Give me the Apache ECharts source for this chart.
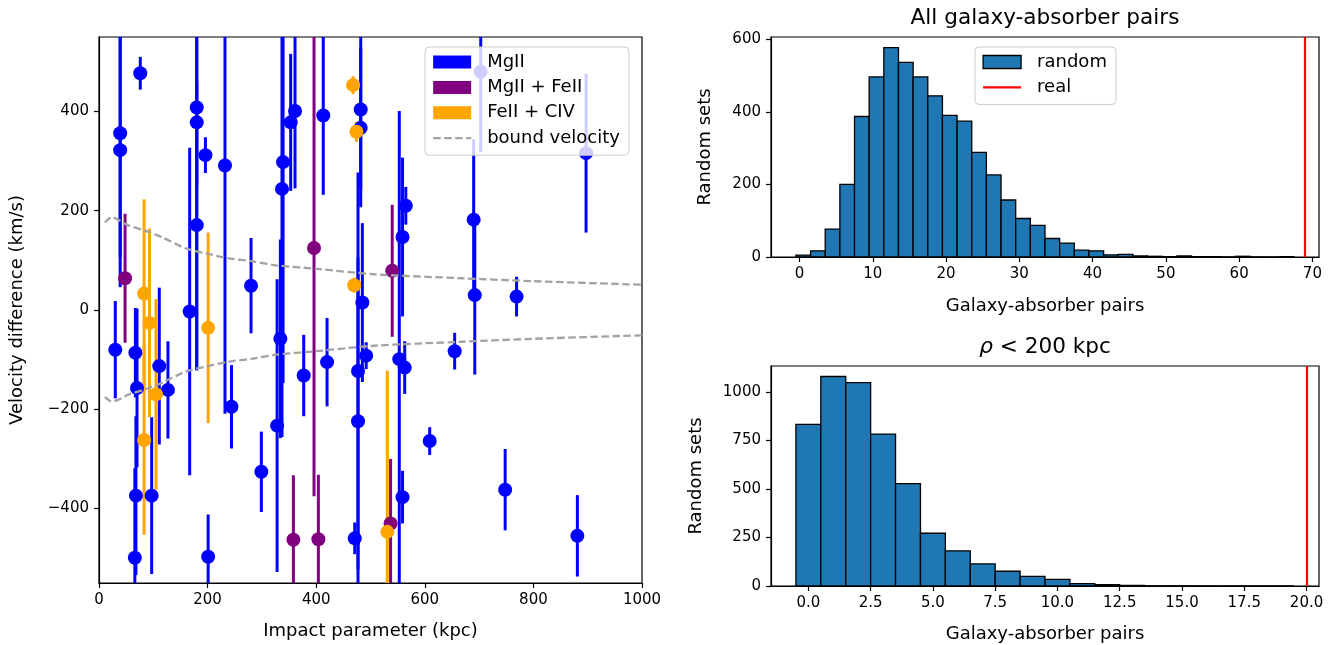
<!DOCTYPE html>
<html><head><meta charset="utf-8">
<script src="https://cdn.jsdelivr.net/npm/echarts@6/dist/echarts.min.js"></script>
<style>html,body{margin:0;padding:0;background:#fff}#c{width:1342px;height:645px}</style>
</head><body><div id="c"></div><script>
const FONT = 'DejaVu Sans';

// ---- Left panel: velocity difference vs impact parameter ----
const mgX   = [30, 39, 39, 76, 67, 70, 68, 66, 111, 127, 97, 167, 180, 180, 180, 196, 201, 232, 244, 280, 299, 328, 334, 337, 339, 353, 361, 377, 413, 420, 471, 477, 477, 482, 482, 485, 492, 553, 559, 565, 563, 559, 609, 655, 690, 692, 703, 748, 769, 881, 897];
const mgV   = [-80, 356, 322, 477, -86, -157, -374, -499, -113, -161, -374, -3, 408, 378, 171, 312, -497, 291, -195, 49, -326, -233, -58, 244, 298, 378, 401, -132, 392, -105, -460, -123, -224, 404, 367, 15, -92, -99, 147, 210, -116, -377, -264, -83, 182, 30, 480, -362, 27, -455, 316];
const mgErr = [98, 250, 276, 33, 90, 160, 160, 180, 158, 98, 158, 330, 160, 500, 290, 36, 85, 500, 84, 96, 81, 295, 200, 500, 445, 138, 156, 82, 160, 89, 32, 400, 330, 160, 160, 160, 27, 500, 160, 38, 53, 53, 28, 37, 162, 160, 162, 82, 40, 82, 160];

const mfX   = [48, 396, 358, 404, 540, 537];
const mfV   = [64, 125, -463, -462, 79, -430];
const mfErr = [130, 500, 130, 130, 133, 130];

const fcX   = [83, 83, 93, 105, 201, 468, 474, 470, 531];
const fcV   = [33, -262, -26, -170, -36, 453, 359, 50, -447];
const fcErr = [190, 191, 190, 192, 192, 18, 20, 15, 325];

const boundR    = [11, 23, 35, 53, 87, 117, 160, 197, 240, 283, 326, 400, 507, 667, 801, 1000];
const boundVUp  = [176, 187, 182, 171, 159, 146, 124, 114, 104, 98, 90, 83, 72, 64, 58, 51];
const boundVLow = [-175, -184, -181, -171, -159, -146, -124, -114, -104, -98, -90, -83, -72, -64, -58, -51];

const leftXTicks = [0, 200, 400, 600, 800, 1000];
const leftYTicks = [-400, -200, 0, 200, 400];

// ---- Top-right histogram: all galaxy-absorber pairs ----
const topBinEdges = [-0.5, 1.5, 3.5, 5.5, 7.5, 9.5, 11.5, 13.5, 15.5, 17.5, 19.5, 21.5, 23.5, 25.5, 27.5, 29.5, 31.5, 33.5, 35.5, 37.5, 39.5, 41.5, 43.5, 45.5, 47.5, 49.5, 51.5, 53.5, 55.5, 57.5, 59.5, 61.5, 63.5, 65.5, 67.5];
const topCounts   = [5, 17, 77, 200, 387, 496, 577, 536, 496, 444, 390, 374, 288, 226, 157, 106, 87, 51, 38, 19, 17, 6, 7, 3, 2, 1, 3, 1, 1, 0, 2, 0, 0, 1];
const topReal = 69;
const topXTicks = [0, 10, 20, 30, 40, 50, 60, 70];
const topYTicks = [0, 200, 400, 600];

// ---- Bottom-right histogram: rho < 200 kpc ----
const botBinEdges = [-0.5, 0.5, 1.5, 2.5, 3.5, 4.5, 5.5, 6.5, 7.5, 8.5, 9.5, 10.5, 11.5, 12.5, 13.5, 14.5, 15.5, 16.5, 17.5, 18.5, 19.5];
const botCounts   = [833, 1080, 1048, 783, 528, 272, 181, 114, 76, 50, 34, 12, 7, 3, 1, 1, 0, 0, 0, 0];
const botReal = 20;
const botXTicks = [0, 2.5, 5, 7.5, 10, 12.5, 15, 17.5, 20];
const botYTicks = [0, 250, 500, 750, 1000];

// ---------------------------------------------------------------
const Y_MIN = -550, Y_MAX = 550;
const C_MG = '#0000ff', C_MF = '#800080', C_FC = '#ffa500', C_BOUND = '#a3a3a3', C_HIST = '#1f77b4';

function pts(xs, vs, es) { return xs.map((x, i) => [x, vs[i], es[i]]); }
function errSeries(name, color, data) {
  return {
    type: 'custom', name, xAxisIndex: 0, yAxisIndex: 0, data, itemStyle: {color},
    encode: {x: 0, y: 1}, clip: true,
    renderItem: (params, api) => {
      const x = api.value(0), v = api.value(1), e = api.value(2);
      const p0 = api.coord([x, Math.max(v - e, Y_MIN)]);
      const p1 = api.coord([x, Math.min(v + e, Y_MAX)]);
      return {type: 'line', shape: {x1: p0[0], y1: p0[1], x2: p1[0], y2: p1[1]},
              style: {stroke: color, lineWidth: 3}};
    }
  };
}
function dotSeries(name, color, data) {
  return {type: 'scatter', name, xAxisIndex: 0, yAxisIndex: 0, data: data.map(d => [d[0], d[1]]),
          symbol: 'circle', symbolSize: 14, itemStyle: {color, opacity: 1}, clip: true};
}
function histSeries(name, axis, edges, counts) {
  const data = counts.map((c, i) => [edges[i], edges[i + 1], c]);
  return {
    type: 'custom', name, xAxisIndex: axis, yAxisIndex: axis, data,
    itemStyle: {color: C_HIST, borderColor: '#000', borderWidth: 1},
    encode: {x: [0, 1], y: 2},
    renderItem: (params, api) => {
      const p0 = api.coord([api.value(0), 0]);
      const p1 = api.coord([api.value(1), api.value(2)]);
      return {type: 'rect', shape: {x: p0[0], y: p1[1], width: p1[0] - p0[0], height: p0[1] - p1[1]},
              style: {fill: C_HIST, stroke: '#000', lineWidth: 1.3}};
    }
  };
}
const plain = v => String(v).replace('-', '\u2212');
const tickLabel = {color: '#000', fontSize: 15, fontFamily: FONT, margin: 10};
const axTick = {show: true, length: 5, lineStyle: {color: '#000', width: 1.2}};
const axLine = {show: true, onZero: false, lineStyle: {color: '#000', width: 1.2}};
const nameStyle = {color: '#000', fontSize: 18, fontFamily: FONT};
const gridBase = {show: true, borderColor: '#000', borderWidth: 1.2, backgroundColor: 'transparent', containLabel: false};
function lab(vals, fmt) { return Object.assign({customValues: vals, formatter: fmt || plain}, tickLabel); }
function tk(vals) { return Object.assign({customValues: vals}, axTick); }

const mgData = pts(mgX, mgV, mgErr), mfData = pts(mfX, mfV, mfErr), fcData = pts(fcX, fcV, fcErr);

const legendText = {color: '#000', fontSize: 18, fontFamily: FONT,
  rich: {a: {color: '#000', fontSize: 18, fontFamily: FONT, lineHeight: 20, padding: [0, 0, 0, 11]}}};

const option = {
  animation: false,
  backgroundColor: '#fff',
  textStyle: {fontFamily: FONT},
  grid: [
    Object.assign({left: 99, top: 37, width: 543, height: 549}, gridBase),
    Object.assign({left: 771, top: 37, width: 548, height: 220}, gridBase),
    Object.assign({left: 771, top: 366, width: 548, height: 220}, gridBase)
  ],
  xAxis: [
    {gridIndex: 0, type: 'value', min: 0, max: 1000,
     axisLabel: lab(leftXTicks), axisTick: tk(leftXTicks), axisLine: axLine, splitLine: {show: false},
     name: 'Impact parameter (kpc)', nameLocation: 'middle', nameGap: 39, nameTextStyle: nameStyle},
    {gridIndex: 1, type: 'value', min: -3.9, max: 70.9,
     axisLabel: lab(topXTicks), axisTick: tk(topXTicks), axisLine: axLine, splitLine: {show: false},
     name: 'Galaxy-absorber pairs', nameLocation: 'middle', nameGap: 40, nameTextStyle: nameStyle},
    {gridIndex: 2, type: 'value', min: -1.5, max: 20.5,
     axisLabel: lab(botXTicks, v => Number(v).toFixed(1)), axisTick: tk(botXTicks), axisLine: axLine, splitLine: {show: false},
     name: 'Galaxy-absorber pairs', nameLocation: 'middle', nameGap: 39, nameTextStyle: nameStyle}
  ],
  yAxis: [
    {gridIndex: 0, type: 'value', min: Y_MIN, max: Y_MAX,
     axisLabel: lab(leftYTicks), axisTick: tk(leftYTicks), axisLine: axLine, splitLine: {show: false},
     name: 'Velocity difference (km/s)', nameLocation: 'middle', nameGap: 73, nameTextStyle: nameStyle},
    {gridIndex: 1, type: 'value', min: 0, max: 606,
     axisLabel: lab(topYTicks), axisTick: tk(topYTicks), axisLine: axLine, splitLine: {show: false},
     name: 'Random sets', nameLocation: 'middle', nameGap: 57, nameTextStyle: nameStyle},
    {gridIndex: 2, type: 'value', min: 0, max: 1134,
     axisLabel: lab(botYTicks), axisTick: tk(botYTicks), axisLine: axLine, splitLine: {show: false},
     name: 'Random sets', nameLocation: 'middle', nameGap: 66, nameTextStyle: nameStyle}
  ],
  legend: [
    {orient: 'vertical', left: 425, top: 47, itemWidth: 38, itemHeight: 13, itemGap: 7.4,
     padding: [6, 9, 8, 7], selectedMode: false,
     backgroundColor: 'rgba(255,255,255,0.8)', borderColor: '#cccccc', borderWidth: 1, borderRadius: 4,
     formatter: n => '{a|' + n + '}', textStyle: legendText,
     data: [
       {name: 'MgII', icon: 'rect', itemStyle: {color: C_MG}},
       {name: 'MgII + FeII', icon: 'rect', itemStyle: {color: C_MF}},
       {name: 'FeII + CIV', icon: 'rect', itemStyle: {color: C_FC}},
       {name: 'bound velocity', itemStyle: {color: 'rgba(0,0,0,0)', opacity: 0, borderWidth: 0},
        lineStyle: {color: C_BOUND, width: 2.3, type: [7.5, 3.5]}}
     ]},
    {orient: 'vertical', left: 975, top: 47, itemWidth: 38, itemHeight: 13, itemGap: 7.4,
     padding: [6, 9, 8, 7], selectedMode: false,
     backgroundColor: 'rgba(255,255,255,0.8)', borderColor: '#cccccc', borderWidth: 1, borderRadius: 4,
     formatter: n => '{a|' + n + '}', textStyle: legendText,
     data: [
       {name: 'random', icon: 'rect', itemStyle: {color: C_HIST, borderColor: '#000', borderWidth: 1.3}},
       {name: 'real', itemStyle: {color: 'rgba(0,0,0,0)', opacity: 0, borderWidth: 0},
        lineStyle: {color: '#ff0000', width: 2.2, type: 'solid'}}
     ]}
  ],
  graphic: [
    {type: 'text', x: 1045, y: 18, style: {text: 'All galaxy-absorber pairs', fontSize: 21.6, fontFamily: FONT,
      fill: '#000', align: 'center', verticalAlign: 'middle', textAlign: 'center', textVerticalAlign: 'middle'}},
    {type: 'text', x: 1045, y: 347, style: {text: '{i|ρ} < 200 kpc', fontSize: 21.6, fontFamily: FONT,
      fill: '#000', align: 'center', verticalAlign: 'middle', textAlign: 'center', textVerticalAlign: 'middle',
      rich: {i: {fontStyle: 'italic', fontSize: 21.6, fontFamily: FONT, fill: '#000'}}}}
  ],
  series: [
    errSeries('MgII', C_MG, mgData), dotSeries('MgII', C_MG, mgData),
    errSeries('MgII + FeII', C_MF, mfData), dotSeries('MgII + FeII', C_MF, mfData),
    errSeries('FeII + CIV', C_FC, fcData), dotSeries('FeII + CIV', C_FC, fcData),
    {type: 'line', name: 'bound velocity', xAxisIndex: 0, yAxisIndex: 0, symbol: 'none', smooth: 0.3,
     data: boundR.map((r, i) => [r, boundVUp[i]]), lineStyle: {color: C_BOUND, width: 2.3, type: [7.5, 3.5]}, itemStyle: {color: C_BOUND}},
    {type: 'line', name: 'bound velocity', xAxisIndex: 0, yAxisIndex: 0, symbol: 'none', smooth: 0.3,
     data: boundR.map((r, i) => [r, boundVLow[i]]), lineStyle: {color: C_BOUND, width: 2.3, type: [7.5, 3.5]}, itemStyle: {color: C_BOUND}},
    histSeries('random', 1, topBinEdges, topCounts),
    {type: 'line', name: 'real', xAxisIndex: 1, yAxisIndex: 1, symbol: 'none', data: [],
     lineStyle: {color: '#ff0000', width: 2.2}, itemStyle: {color: '#ff0000'},
     markLine: {silent: true, symbol: 'none', label: {show: false}, lineStyle: {color: '#ff0000', width: 2.2, type: 'solid'},
                data: [{xAxis: topReal}]}},
    histSeries('random2', 2, botBinEdges, botCounts),
    {type: 'line', name: 'real2', xAxisIndex: 2, yAxisIndex: 2, symbol: 'none', data: [],
     lineStyle: {color: '#ff0000', width: 2.2},
     markLine: {silent: true, symbol: 'none', label: {show: false}, lineStyle: {color: '#ff0000', width: 2.2, type: 'solid'},
                data: [{xAxis: botReal}]}}
  ]
};
const chart = echarts.init(document.getElementById('c'), null, {renderer: 'canvas'});
chart.setOption(option);
</script></body></html>
